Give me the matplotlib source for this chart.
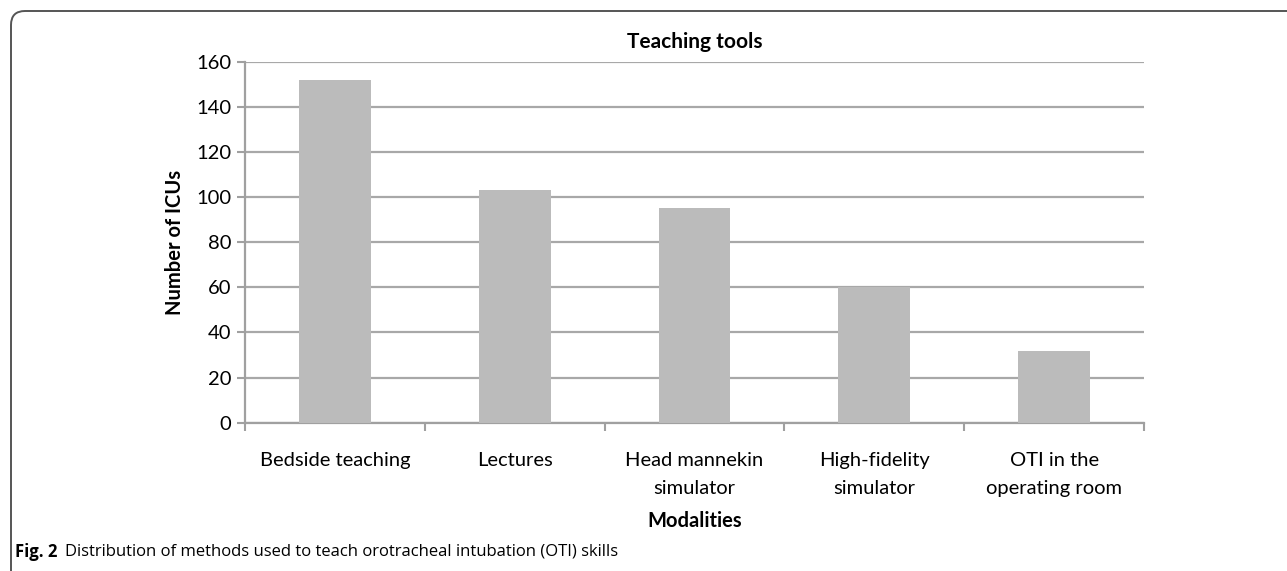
import matplotlib.pyplot as plt
from matplotlib.patches import FancyBboxPatch
from matplotlib.transforms import IdentityTransform

categories = ['Bedside teaching', 'Lectures', 'Head mannekin\nsimulator',
              'High-fidelity\nsimulator', 'OTI in the\noperating room']
counts = [152, 103, 95, 60, 32]
y_ticks = [0, 20, 40, 60, 80, 100, 120, 140, 160]

plt.rcParams['font.family'] = ['Lato', 'DejaVu Sans']

fig = plt.figure(figsize=(12.87, 5.71), dpi=100)
ax = fig.add_axes([0.1904, 0.2597, 0.6985, 0.6322])

x = list(range(len(categories)))
ax.bar(x, counts, width=0.4, color='#bbbbbb', zorder=3)

ax.set_xlim(-0.5, len(categories) - 0.5)
ax.set_ylim(0, 160)
ax.set_yticks(y_ticks)
ax.grid(axis='y', color='#a8a8a8', linewidth=1.6, zorder=0)

ax.set_xticks(x)
ax.set_xticklabels(categories, fontsize=14.5, linespacing=1.8)
ax.set_xticks([i - 0.5 for i in range(len(categories) + 1)], minor=True)
ax.tick_params(axis='x', which='major', length=0, pad=21)
ax.tick_params(axis='x', which='minor', length=6, width=1.5, color='#a0a0a0')
ax.tick_params(axis='y', length=6, width=1.5, color='#a0a0a0', labelsize=14.5, pad=4)

for side in ['top', 'right']:
    ax.spines[side].set_visible(False)
for side in ['left', 'bottom']:
    ax.spines[side].set_color('#a0a0a0')
    ax.spines[side].set_linewidth(1.6)

ax.set_title('Teaching tools', fontsize=15, fontweight='bold', pad=10)
ax.set_ylabel('Number of ICUs', fontsize=14.5, fontweight='bold', labelpad=8)
ax.set_xlabel('Modalities', fontsize=14.5, fontweight='bold', labelpad=10)

# rounded frame around the figure (only top and left visible)
frame = FancyBboxPatch((11, -40), 1320, 600, boxstyle='round,pad=0,rounding_size=14',
                       transform=IdentityTransform(), facecolor='none',
                       edgecolor='#555555', linewidth=1.4)
fig.patches.append(frame)

# caption
fig.canvas.draw()
r = fig.canvas.get_renderer()
t1 = fig.text(15 / 1287, 1 - 552 / 571, 'Fig. 2', fontsize=12, fontweight='bold',
              family=['Open Sans', 'DejaVu Sans'], va='center')
bb = t1.get_window_extent(renderer=r)
fig.text((bb.x1 + 8) / 1287, 1 - 552 / 571,
         'Distribution of methods used to teach orotracheal intubation (OTI) skills',
         fontsize=12, family=['Open Sans', 'DejaVu Sans'], va='center')

fig.savefig('out.png', dpi=100)
